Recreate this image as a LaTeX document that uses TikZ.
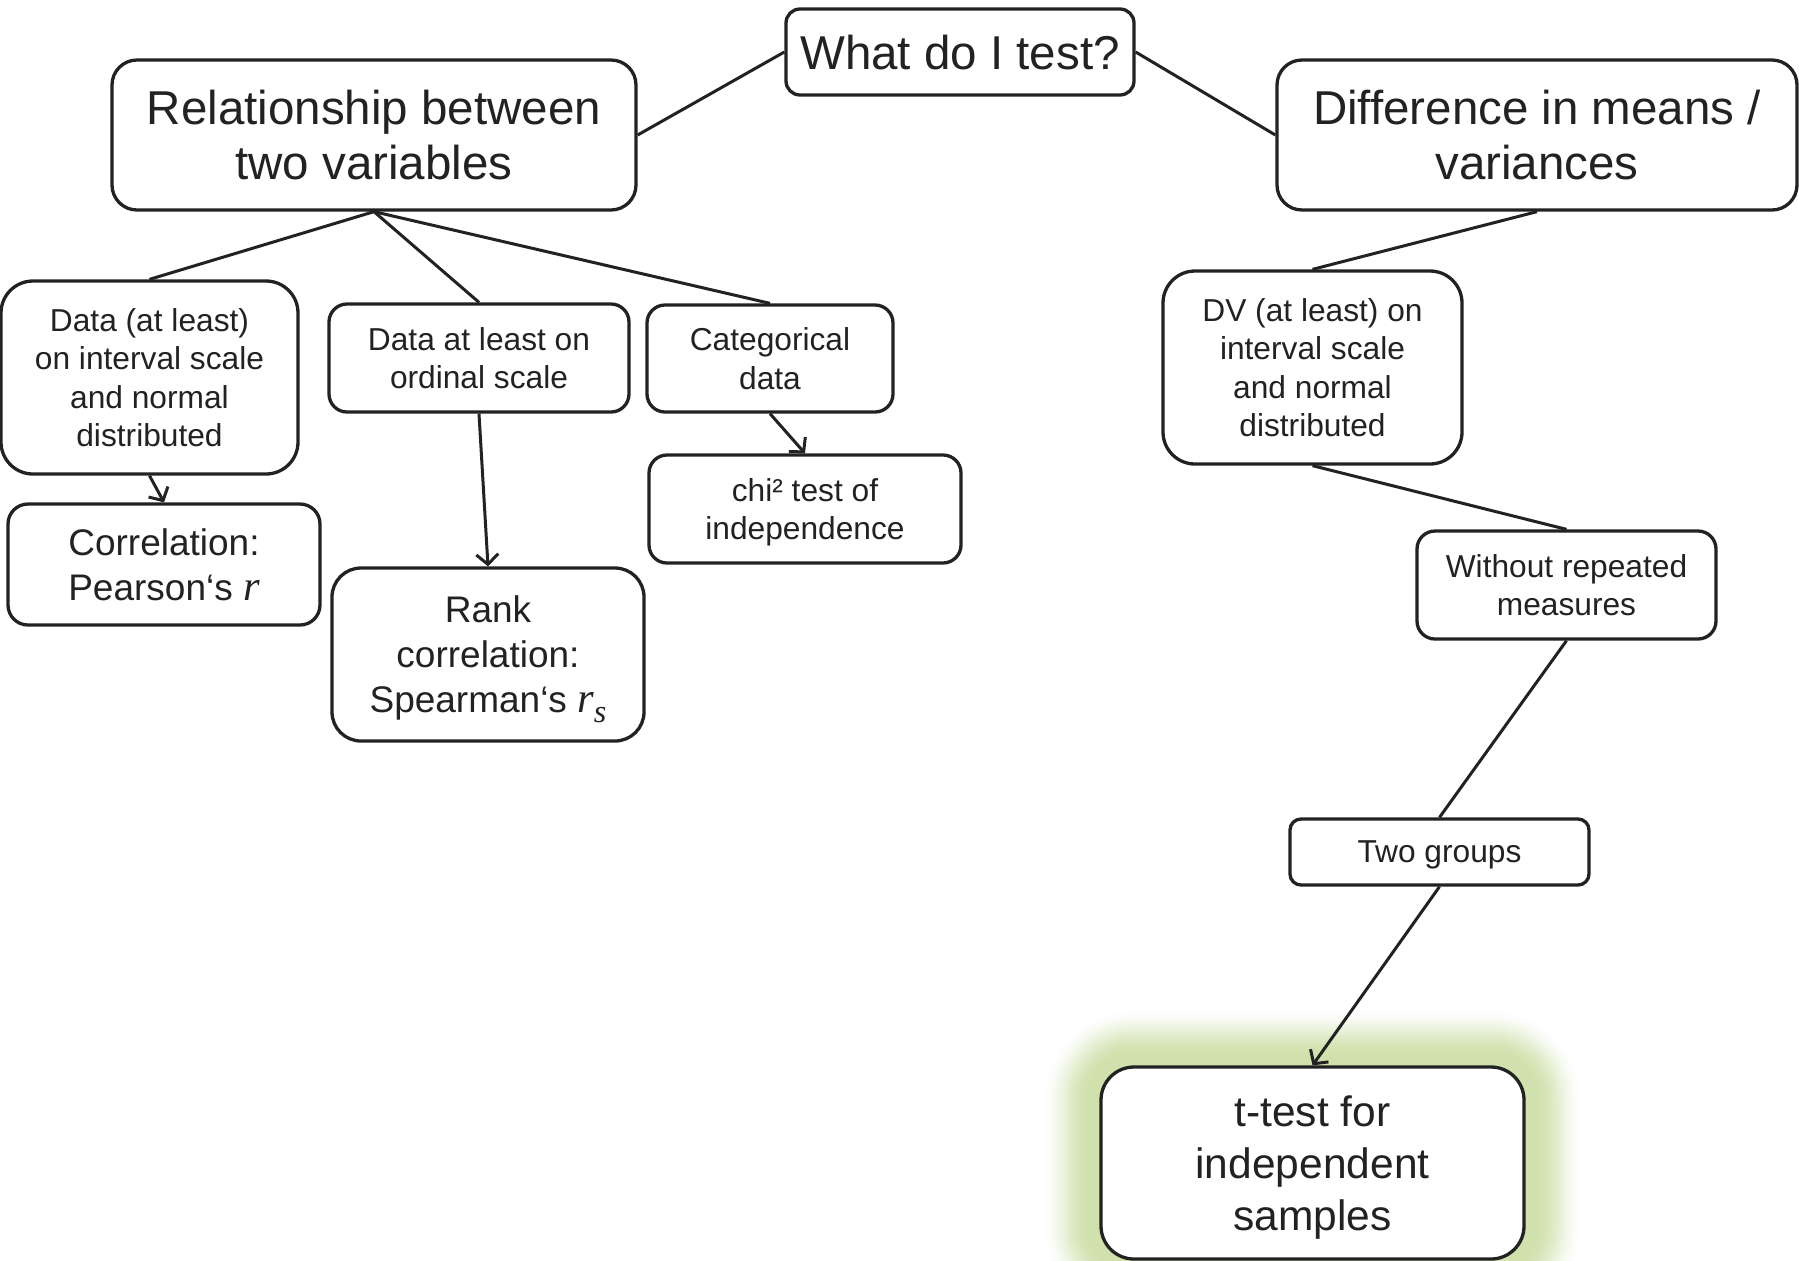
\documentclass[tikz,border=0pt]{standalone}
\usepackage{fontspec}
\setmainfont{Liberation Sans}
\newfontfamily\mathlike[Scale=1.15]{Liberation Serif}
\usetikzlibrary{arrows.meta}
\definecolor{ink}{HTML}{222222}
\definecolor{glow}{HTML}{D0E1AD}
\newcommand{\varr}{{\mathlike\itshape r}}
\newcommand{\subsvar}{\raisebox{-0.25em}{\mathlike\itshape\fontsize{14}{14}\selectfont s}}
\tikzset{
  box/.style={draw=ink, line width=1.65pt, fill=white, align=center, inner sep=0pt, text=ink, text depth=0pt},
  bigtxt/.style={font=\fontsize{23.75}{27.5}\selectfont},
  midtxt/.style={font=\fontsize{18.5}{22.5}\selectfont},
  ttxt/.style={font=\fontsize{21.25}{25.8}\selectfont},
  smalltxt/.style={font=\fontsize{15.85}{19.3}\selectfont},
  link/.style={draw=ink, line width=1.5pt},
  arrowlink/.style={link, -{Straight Barb[length=5pt,width=11pt,line width=1.5pt]}}
}
\begin{document}
\begin{tikzpicture}[x=0.5pt,y=-0.5pt]
\useasboundingbox (0,0) rectangle (1799,1260);
% glow behind the result node
\foreach \e in {60,59,...,0} {
  \pgfmathsetmacro\tt{min(1,max(0,(60-\e)/48))}
  \pgfmathtruncatemacro\pp{100*\tt*\tt*(3-2*\tt)}
  \pgfmathsetmacro\rr{16.5+\e*0.5}
  \fill[glow!\pp!white, rounded corners=\rr pt] (1101-\e,1067-\e) rectangle (1524+\e,1259+\e);
}
% nodes
\node[box, bigtxt, minimum width=174pt, minimum height=43pt, rounded corners=7pt] (what) at (960,52) {What do I test?};
\node[box, bigtxt, minimum width=262pt, minimum height=75pt, rounded corners=12.5pt] (rel) at (374,135) {Relationship between\\two variables};
\node[box, bigtxt, minimum width=260pt, minimum height=75pt, rounded corners=12.5pt] (diff) at (1537,135) {Difference in means /\\variances};
\node[box, smalltxt, minimum width=148.5pt, minimum height=96.5pt, rounded corners=16pt] (dint) at (149.5,377.5) {Data (at least)\\on interval scale\\and normal\\distributed};
\node[box, smalltxt, minimum width=150pt, minimum height=54pt, rounded corners=9pt] (ord) at (479,358) {Data at least on\\ordinal scale};
\node[box, smalltxt, minimum width=123pt, minimum height=53.5pt, rounded corners=9pt] (cat) at (770,358.5) {Categorical\\data};
\node[box, smalltxt, minimum width=156pt, minimum height=54pt, rounded corners=9pt] (chi) at (805,509) {chi² test of\\independence};
\node[box, midtxt, minimum width=156pt, minimum height=60.5pt, rounded corners=10pt] (pear) at (164,564.5) {Correlation:\\Pearson‘s \varr};
\node[box, midtxt, minimum width=156pt, minimum height=86.5pt, rounded corners=14.5pt] (rank) at (488,654.5) {Rank\\correlation:\\Spearman‘s \varr\subsvar};
\node[box, smalltxt, minimum width=149.5pt, minimum height=96.5pt, rounded corners=16pt] (dv) at (1312.5,367.5) {DV (at least) on\\interval scale\\and normal\\distributed};
\node[box, smalltxt, minimum width=149.5pt, minimum height=54pt, rounded corners=9pt] (wrm) at (1566.5,585) {Without repeated\\measures};
\node[box, smalltxt, minimum width=149.5pt, minimum height=33pt, rounded corners=5.5pt] (two) at (1439.5,852) {Two groups};
\node[box, ttxt, minimum width=211.5pt, minimum height=96pt, rounded corners=16.5pt] (ttest) at (1312.5,1163) {t-test for\\independent\\samples};
% connectors
\draw[link] (what.west) -- (rel.east);
\draw[link] (what.east) -- (diff.west);
\draw[link] (rel.south) -- (dint.north);
\draw[link] (rel.south) -- (ord.north);
\draw[link] (rel.south) -- (cat.north);
\draw[link] (diff.south) -- (dv.north);
\draw[link] (dv.south) -- (wrm.north);
\draw[link] (wrm.south) -- (two.north);
\draw[arrowlink] (dint.south) -- (pear.north);
\draw[arrowlink] (ord.south) -- (rank.north);
\draw[arrowlink] (cat.south) -- (chi.north);
\draw[arrowlink] (two.south) -- (ttest.north);
\end{tikzpicture}
\end{document}
